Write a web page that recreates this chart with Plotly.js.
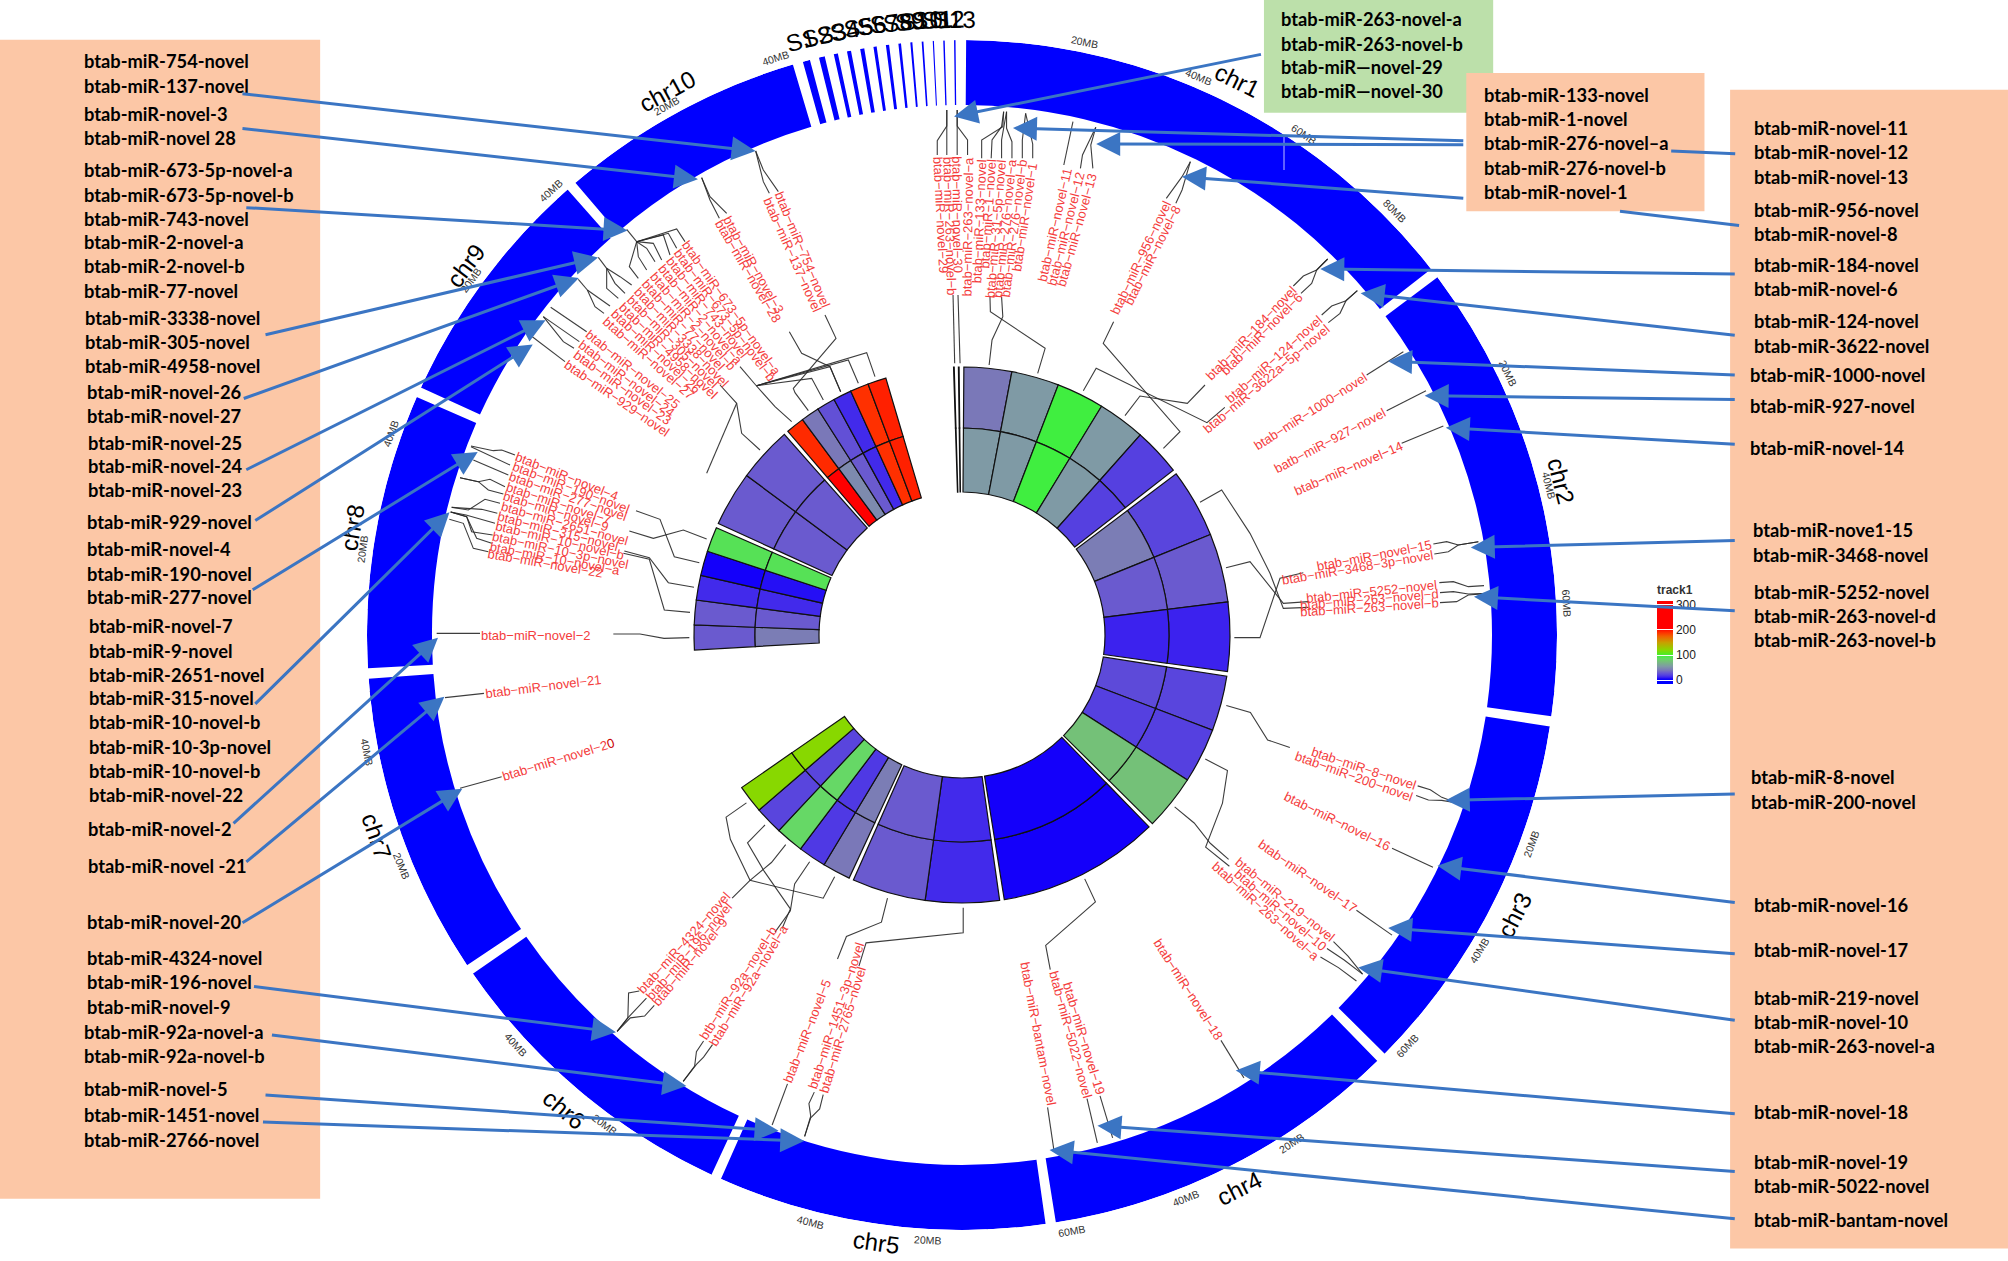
<!DOCTYPE html>
<html><head><meta charset="utf-8">
<script src="https://cdn.plot.ly/plotly-3.0.1.min.js"></script>
<style>html,body{margin:0;padding:0;background:#fff}</style></head>
<body><div id="chart" style="width:2008px;height:1261px"></div>
<script>
// ---------- genome data ----------
const chrNames=['chr1','chr2','chr3','chr4','chr5','chr6','chr7','chr8','chr9','chr10'];
const chrSizesMb=[91.4,79.3,63.5,62.3,56.6,53.8,52.2,47.4,42.3,42.5];
const scaffoldNames=['S1','S2','S3','S4','S5','S6','S7','S8','S9','S10','S11','S12','S13'];
const scaffoldSizesMb=[1.24,1.0,.7,.7,.7,.55,.55,.45,.35,.3,.2,.25,.25];
// heat-map track: number of cells on each sector, then one value per cell for each ring
const cellsPerChr=[5,3,3,1,2,5,0,5,2,6];
const trackOuter=[40,55,97,55,20, 22,30,12, 22,20,75, 5, 14,30, 40,18,85,22,120, 30,30,14,5,90, 30,30, 192,40,26,14,190,195];
const trackInner=[55,55,97,55,20, 42,30,12, 24,20,75, 5, 14,30, 42,18,85,22,120, 42,30,14,8,90, 30,30, 220,48,30,14,190,195];
const thinCellSectors=[11,12]; const thinOuter=[40,40]; const thinInner=[55,55];
const scaleValues=[-15,0,5,12,20,30,40,55,75,85,97,105,120,150,175,190,205,315];
const scaleColors=['#0000ff','#0000ff','#1400fa','#3c22ee','#5540e0','#6a5acf','#7a78b8','#7f9aa5','#74c178','#66d866','#40ee40','#55e820','#88d800','#c8a000','#f06000','#ff3000','#ff0000','#ff0000'];
const barTicks=[0,100,200,300];

// ---------- text lists ----------
const leftBoxText=['btab-miR-754-novel','btab-miR-137-novel','btab-miR-novel-3','btab-miR-novel 28','btab-miR-673-5p-novel-a','btab-miR-673-5p-novel-b','btab-miR-743-novel','btab-miR-2-novel-a','btab-miR-2-novel-b','btab-miR-77-novel','btab-miR-3338-novel','btab-miR-305-novel','btab-miR-4958-novel','btab-miR-novel-26','btab-miR-novel-27','btab-miR-novel-25','btab-miR-novel-24','btab-miR-novel-23','btab-miR-929-novel','btab-miR-novel-4','btab-miR-190-novel','btab-miR-277-novel','btab-miR-novel-7','btab-miR-9-novel','btab-miR-2651-novel','btab-miR-315-novel','btab-miR-10-novel-b','btab-miR-10-3p-novel','btab-miR-10-novel-b','btab-miR-novel-22','btab-miR-novel-2','btab-miR-novel -21','btab-miR-novel-20','btab-miR-4324-novel','btab-miR-196-novel','btab-miR-novel-9','btab-miR-92a-novel-a','btab-miR-92a-novel-b','btab-miR-novel-5','btab-miR-1451-novel','btab-miR-2766-novel'];
const leftBoxX=[64,64,64,64,64,64,64,64,64,64,65,65,65,66,66,67,67,67,66,66,66,66,68,68,68,68,68,68,68,68,67,67,66,66,66,66,64,64,64,64,64];
const leftBoxY=[48,67,89,108,133,152,171,189,208,227,248,267,286,306,325,346,364,383,408,429,448,466,489,508,527,545,564,583,602,621,647,676,720,748,767,786,806,825,850,871,890];
const greenBoxText=['btab-miR-263-novel-a','btab-miR-263-novel-b','btab-miR—novel-29','btab-miR—novel-30'];
const greenBoxY=[15,34,52,71];
const midBoxText=['btab-miR-133-novel','btab-miR-1-novel','btab-miR-276-novel–a','btab-miR-276-novel-b','btab-miR-novel-1'];
const midBoxY=[74,93,112,131,150];
const rightBoxText=['btab-miR-novel-11','btab-miR-novel-12','btab-miR-novel-13','btab-miR-956-novel','btab-miR-novel-8','btab-miR-184-novel','btab-miR-novel-6','btab-miR-124-novel','btab-miR-3622-novel','btab-miR-1000-novel','btab-miR-927-novel','btab-miR-novel-14','btab-miR-nove1-15','btab-miR-3468-novel','btab-miR-5252-novel','btab-miR-263-novel-d','btab-miR-263-novel-b','btab-miR-8-novel','btab-miR-200-novel','btab-miR-novel-16','btab-miR-novel-17','btab-miR-219-novel','btab-miR-novel-10','btab-miR-263-novel-a','btab-miR-novel-18','btab-miR-novel-19','btab-miR-5022-novel','btab-miR-bantam-novel'];
const rightBoxX=[1368,1368,1368,1368,1368,1368,1368,1368,1368,1365,1365,1365,1367,1367,1368,1368,1368,1366,1366,1368,1368,1368,1368,1368,1368,1368,1368,1368];
const rightBoxY=[100,119,138,164,183,207,226,251,270,293,317,350,414,433,462,481,500,607,626,707,742,779,798,817,868,907,926,953];

// Reading frames: [offsetX, offsetY, scaleX, scaleY] from measured coordinates to page pixels
const F={a:[680,0,2.41,3],b:[1100,250,3,3],c:[950,650,2.613,2.613],d:[500,700,2.8,2.8],e:[360,380,3,3],f:[500,0,3,3],r:[0,0,1/1.2806,1/1.2806]};
const P=(fr,p)=>[F[fr][0]+p[0]/F[fr][2],F[fr][1]+p[1]/F[fr][3]];

// Red gene labels: frame, name, outer end of the text
const geneLabels=[
['f','btab-miR-754-novel',835,578],['f','btab-miR-137-novel',800,595],['f','btab-miR-novel-3',680,650],['f','btab-miR-novel-28',655,665],
['f','btab-miR-673-5p-novel-a',555,730],['f','btab-miR-673-5p-novel-b',531,753],['f','btab-miR-743-novel',507,776],['f','btab-miR-2-novel-a',483,799],['f','btab-miR-2-novel-b',459,822],['f','btab-miR-77-novel',435,845],['f','btab-miR-3338-novel',411,868],['f','btab-miR-305-novel',387,891],['f','btab-miR-4958-novel',363,914],['f','btab-miR-novel-26',339,937],['f','btab-miR-novel-27',315,960],
['f','btab-miR-novel-25',262,1000],['f','btab-miR-novel-24',240,1030],['f','btab-miR-novel-23',225,1060],['f','btab-miR-929-novel',198,1090],
['f','btab-miR-novel-29',1312,470],['f','btab-miR-263-novel-b',1345,470],['f','btab-miR-novel-30',1372,470],['f','btab-miR-263-novel-a',1405,470],
['a','btab-miR-133-novel',727,478],['a','btab-miR-1-novel',752,478],['a','btab-miR-31-5p-novel',775,478],['a','btab-miR-276-novel-a',800,478],['a','btab-miR-276-novel-b',825,478],['a','btab-miR-novel-1',850,490],
['a','btab-miR-novel-11',935,505],['a','btab-miR-novel-12',965,515],['a','btab-miR-novel-13',995,520],['a','btab-miR-956-novel',1175,605],['a','btab-miR-novel-8',1198,620],
['b','btab-miR-184-novel',580,115],['b','btab-miR-novel-6',603,135],['b','btab-miR-124-novel',660,205],['b','btab-miR-3622a-5p-novel',685,230],['b','btab-miR-1000-novel',797,378],['b','batb-miR-927-novel',855,485],['b','btab-miR-novel-14',905,585],
['b','btab-miR-novel-15',995,885],['b','btab-miR-3468-3p-novel',1000,915],['b','btab-miR-5252-novel',1010,1005],['b','btab-miR-263-novel-d',1015,1032],['b','btab-miR-263-novel-b',1015,1060],
['c','btab-miR-8-novel',1218,355],['c','btab-miR-200-novel',1208,385],['c','btab-miR-novel-16',1150,515],['c','btab-miR-novel-17',1060,680],['c','btab-miR-219-novel',1000,755],['c','btab-miR-novel-10',980,780],['c','btab-miR-263-novel-a',960,805],['c','btab-miR-novel-18',705,1015],['c','btab-miR-novel-19',395,1160],['c','btab-miR-5022-novel',360,1170],['c','btab-miR-bantam-novel',265,1190],
['d','btab-miR-1451-3p-novel',875,1088],['d','btab-miR-2765-novel',905,1100],['d','btab-miR-novel-5',805,1068],['d','btb-miR-92a-novel-b',568,945],['d','btab-miR-92a-novel-a',595,965],['d','btab-miR-4324-novel',392,815],['d','btab-miR-196-novel',415,835],['d','btab-miR-novel-9',435,850],
['e','btab-miR-novel-20',428,1190],['e','btab-miR-novel-21',377,942],['e','btab-miR-novel-2',365,765],
['e','btab-miR-novel-22',385,520],['e','btab-miR-10-novel-a',390,498],['e','btab-miR-10-3p-novel',398,468],['e','btab-miR-10-novel-b',407,438],['e','btab-miR-315-novel',415,408],['e','btab-miR-2651-novel',423,378],['e','btab-miR-novel-9',432,348],['e','btab-miR-novel-7',440,318],['e','btab-miR-277-novel',450,288],['e','btab-miR-190-novel',458,258],['e','btab-miR-novel-4',468,228]
];

// Thin connector lines
const connectors={
a:[[[643,330],[643,378],[620,422],[620,465]],[[643,330],[643,465]],[[668,330],[668,378],[693,420],[693,465]],[[668,330],[668,465]],
[[780,335],[778,380],[727,420],[727,475]],[[780,335],[775,380],[752,420],[750,475]],[[787,335],[775,420],[775,475]],[[787,335],[787,385],[800,425],[800,475]],[[833,340],[825,420],[825,475]],[[833,340],[850,432],[850,475]],
[[947,365],[925,495]],[[1002,382],[970,465],[965,505]],[[1002,382],[990,435],[995,505]],[[1230,485],[1210,530],[1172,595]],[[1230,485],[1210,570],[1195,610]],
[[658,885],[662,1090]],[[670,885],[675,1090]],[[747,890],[748,935],[880,1045],[862,1120]],[[775,890],[778,950],[752,1020],[745,1095]],
[[1045,965],[1020,1030],[1205,1295],[1165,1345]],[[972,1172],[1003,1105],[1270,1268],[1313,1222]],[[1456,510],[1456,632]]],
b:[[[75,497],[120,438],[262,460],[315,405]],[[300,757],[365,720],[450,850],[510,970],[550,1075],[625,1072]],[[378,953],[450,935],[550,1060],[625,1055]],[[403,1163],[480,1163],[540,985],[610,968]],
[[683,27],[650,60],[610,78],[580,108]],[[683,27],[650,60],[635,100],[603,130]],[[772,122],[738,152],[695,168],[665,195]],[[772,122],[738,152],[720,190],[685,218]],
[[910,305],[800,375]],[[978,422],[860,482]],[[1030,528],[905,580]],[[1135,875],[1075,885],[1040,875],[1000,882]],[[1135,875],[1075,885],[1045,905],[1003,912]],
[[1152,1007],[1105,1010],[1060,995],[1018,998]],[[1165,1030],[1105,1032],[1060,1025],[1020,1028]],[[1165,1030],[1105,1035],[1070,1055],[1020,1058]]],
c:[[[722,145],[785,163],[830,235],[888,255]],[[587,410],[638,452],[680,505],[728,547]],[[667,285],[725,315],[712,400],[668,515],[730,565]],
[[1325,400],[1285,385],[1255,365],[1222,355]],[[1325,400],[1285,393],[1250,392],[1218,380]],[[1262,568],[1155,518]],[[1155,745],[1062,680]],
[[1078,847],[1040,800],[1002,762]],[[1078,847],[1030,810],[985,780]],[[1062,865],[1015,830],[968,802]],[[768,1118],[708,1020]],[[425,1275],[392,1165]],[[385,1288],[358,1172]],[[272,1310],[255,1195]],[[352,598],[380,658],[250,772],[262,835]]],
d:[[[1297,582],[1297,652],[1025,680],[1005,745]],[[1085,555],[1068,622],[970,662],[945,725]],[[937,495],[905,555],[700,505],[645,390],[633,328],[690,288]],
[[742,350],[693,400],[740,480],[813,585],[790,640]],[[800,405],[760,455],[700,505],[650,555]],[[867,453],[825,515],[813,590],[770,650]],
[[328,928],[358,890],[360,820],[390,815]],[[328,928],[358,890],[410,835]],[[328,928],[365,890],[405,885],[432,855]],
[[513,1068],[545,1025],[550,985],[570,955]],[[513,1068],[550,1020],[570,1000],[595,965]],[[762,1190],[805,1075]],[[853,1222],[870,1165],[865,1130],[880,1098]],[[853,1222],[870,1170],[895,1145],[905,1105]]],
e:[[[333,198],[400,212],[425,210],[465,225]],[[333,200],[450,255]],[[340,240],[445,285]],[[300,293],[355,305],[390,298],[435,320]],[[300,293],[355,305],[385,330],[430,342]],
[[275,382],[325,390],[375,358],[420,370]],[[275,382],[365,388],[412,400]],[[272,396],[318,405],[405,430]],[[272,396],[320,410],[335,455],[398,465]],[[272,396],[320,410],[350,475],[395,490]],[[268,418],[310,430],[340,505],[385,515]],
[[230,760],[360,760]],[[255,953],[372,940]],[[300,1225],[425,1190]],
[[760,762],[840,762],[912,775],[988,773]],[[828,392],[900,418],[943,530],[1018,548]],[[808,453],[880,475],[970,450],[1040,477]],[[793,513],[868,533],[925,608],[1002,622]],[[790,520],[868,538],[913,690],[990,697]]],
f:[[[660,1155],[710,1210],[725,1300],[780,1350]],[[710,1210],[620,1420]],[[720,1100],[767,1155]],[[767,1155],[825,1220],[875,1265]],[[770,1157],[1100,1058],[1125,1130]],[[770,1157],[1045,1080],[1075,1150]],[[770,1157],[990,1100],[1022,1175]],[[770,1157],[935,1135],[970,1200]],
[[975,945],[1008,1015],[880,1165],[885,1178],[925,1232]],[[868,995],[905,1060],[990,1100],[1022,1175]],
[[767,453],[790,510],[835,575]],[[767,453],[790,545],[808,580]],[[605,533],[630,590],[680,640]],[[605,533],[630,600],[658,655]],
[[380,688],[410,725]],[[410,725],[530,687],[555,725]],[[410,725],[505,700],[530,745]],[[410,725],[490,705],[510,765]],[[410,725],[460,730],[485,780]],[[410,725],[440,745],[465,785]],[[410,725],[415,770],[440,810]],[[410,725],[388,800],[415,835]],
[[295,772],[320,805]],[[320,805],[320,865],[355,895]],[[320,805],[345,850],[375,880]],[[320,805],[360,830],[395,855]],
[[235,838],[262,870]],[[262,870],[285,920],[312,940]],[[262,870],[295,893],[330,918]],
[[152,922],[260,995]],[[130,950],[165,975],[238,1025]],[[130,950],[190,1025],[222,1045]],[[90,1005],[195,1085]]]
};

// Blue call-out arrows: tail x,y then tip x,y
const arrowTails=[[187,73],[187,100],[190,162],[205,262],[188,312],[190,368],[197,408],[195,462],[197,552],[180,645],[190,675],[187,722],[196,770],[210,808],[205,855],[203,876],
[987,42],[1145,110],[1145,113],[1145,155],[1357,214],[1357,262],[1357,293],[1357,312],[1357,347],[1357,422],[1357,477],[1357,620],[1357,705],[1357,745],[1357,797],[1357,870],[1357,915],[1357,952]];
const arrowTips=[[590,118],[545,140],[490,180],[467,201],[452,217],[426,250],[416,269],[373,353],[351,400],[342,498],[347,544],[361,616],[481,806],[536,848],[608,883],[628,891],
[745,91],[791,100],[856,112.5],[923,138],[1031,210],[1062.5,229],[1084,282],[1112.5,309],[1129,334],[1148.5,427.5],[1151,466],[1129,625],[1122.5,676],[1084,724.6],[1060.6,755.6],[965,836],[857,879],[819.6,898]];
const arrowStubs=[[[1305,118],[1355,120]],[[1265,165],[1358,176]]];

// ---------- geometry of the circular layout ----------
const CX=962,CY=635,RO=595,RI=530,RM=207,RT=268,RH=143;
const degPerMb=0.565;
const chrStart=[];let t=0.4;
chrSizesMb.forEach((s,i)=>{chrStart.push(t);t+=s*degPerMb+1;});
const scStart=[];
scaffoldSizesMb.forEach((s)=>{scStart.push(t);t+=s*degPerMb+0.9;});
const pol=(th,r)=>[CX+r*Math.sin(th*Math.PI/180),CY-r*Math.cos(th*Math.PI/180)];
const tangent=th=>th<90?th:(th<270?th-180:th-360);

const ringTheta=[],ringWidth=[];
chrSizesMb.forEach((s,i)=>{ringWidth.push(s*degPerMb);ringTheta.push(chrStart[i]+s*degPerMb/2);});
scaffoldSizesMb.forEach((s,i)=>{ringWidth.push(s*degPerMb);ringTheta.push(scStart[i]+s*degPerMb/2);});

const cellTheta=[],cellWidth=[];
cellsPerChr.forEach((n,i)=>{const w=chrSizesMb[i]*degPerMb/n;for(let k=0;k<n;k++){cellTheta.push(chrStart[i]+w*(k+.5));cellWidth.push(w);}});
const thinTheta=thinCellSectors.map(i=>scStart[i]+scaffoldSizesMb[i]*degPerMb/2);
const thinWidth=thinCellSectors.map(i=>scaffoldSizesMb[i]*degPerMb);
const cmin=scaleValues[0],cmax=scaleValues[scaleValues.length-1];
const colorscale=scaleValues.map((v,i)=>[(v-cmin)/(cmax-cmin),scaleColors[i]]);

const allTheta=cellTheta.concat(thinTheta),allWidth=cellWidth.concat(thinWidth);
const outerVals=trackOuter.concat(thinOuter),innerVals=trackInner.concat(thinInner);

const traces=[];
// connectors in page-pixel axes
const cx=[],cy=[];
Object.keys(connectors).forEach(fr=>connectors[fr].forEach(line=>{line.forEach(p=>{const q=P(fr,p);cx.push(q[0]);cy.push(q[1]);});cx.push(null);cy.push(null);}));
traces.push({type:'scatter',mode:'lines',x:cx,y:cy,line:{color:'rgba(40,40,40,.9)',width:1.1},hoverinfo:'skip',showlegend:false,xaxis:'x',yaxis:'y'});
const sx=[],sy=[];
arrowStubs.forEach(l=>{l.forEach(p=>{const q=P('r',p);sx.push(q[0]);sy.push(q[1]);});sx.push(null);sy.push(null);});
traces.push({type:'scatter',mode:'lines',x:sx,y:sy,line:{color:'#3b75c3',width:3},hoverinfo:'skip',showlegend:false,xaxis:'x',yaxis:'y'});

// outer ideogram ring
traces.push({type:'barpolar',subplot:'polar',r:ringTheta.map(()=>RO-RI),base:ringTheta.map(()=>RI),theta:ringTheta,width:ringWidth,marker:{color:'#0000ff',line:{width:0}},hoverinfo:'skip',showlegend:false});
// heat-map rings
traces.push({type:'barpolar',subplot:'polar',r:allTheta.map(()=>RT-RM),base:allTheta.map(()=>RM),theta:allTheta,width:allWidth,
 marker:{color:outerVals,colorscale:colorscale,cmin:cmin,cmax:cmax,line:{color:'#111',width:1.2},showscale:true,
 colorbar:{x:1657/2008,xanchor:'left',y:(1261-633)/1261,yanchor:'middle',thicknessmode:'pixels',thickness:16,lenmode:'pixels',len:102,xpad:0,ypad:0,outlinewidth:0,
 tickmode:'array',tickvals:barTicks,ticks:'inside',ticklen:16,tickcolor:'#fff',tickwidth:1,tickfont:{family:'Liberation Sans',size:12,color:'#222'},
 title:{text:'<b>track1</b>',side:'top',font:{family:'Liberation Sans',size:12,color:'#333'}}}},hoverinfo:'skip',showlegend:false});
traces.push({type:'barpolar',subplot:'polar',r:allTheta.map(()=>RM-RH),base:allTheta.map(()=>RH),theta:allTheta,width:allWidth,
 marker:{color:innerVals,colorscale:colorscale,cmin:cmin,cmax:cmax,line:{color:'#111',width:1.2},showscale:false},hoverinfo:'skip',showlegend:false});
// axis ticks on the ring
const tr=[],tth=[];
chrSizesMb.forEach((s,i)=>{for(let m=0;m<=s;m+=5){const th=chrStart[i]+m*degPerMb;tr.push(RO,RO+(m%20===0?6:3.5),null);tth.push(th,th,null);}});
traces.push({type:'scatterpolar',subplot:'polar',mode:'lines',r:tr,theta:tth,line:{color:'#333',width:.8},hoverinfo:'skip',showlegend:false,connectgaps:false});

// ---------- annotations ----------
const ann=[];
// chromosome names
const chrLabelTheta=[26.4,75.6,116.9,153.4,188,220,251,280,306.7,331.5];
const chrLabelR=[619,619,619,619,613,619,619,619,619,619];
chrNames.forEach((n,i)=>{const th=chrLabelTheta[i],q=pol(th,chrLabelR[i]);ann.push({x:q[0],y:q[1],text:n,textangle:tangent(th),showarrow:false,font:{family:'Liberation Sans',size:24,color:'#000'}});});
// scaffold names
scaffoldNames.forEach((n,i)=>{const th=ringTheta[chrNames.length+i],q=pol(th,616);ann.push({x:q[0],y:q[1],text:n,textangle:tangent(th),showarrow:false,font:{family:'Liberation Sans',size:24,color:'#000'}});});
// MB tick labels
chrSizesMb.forEach((s,i)=>{for(let m=20;m<s;m+=20){const th=chrStart[i]+m*degPerMb,q=pol(th,606);ann.push({x:q[0],y:q[1],text:m+'MB',textangle:tangent(th),showarrow:false,font:{family:'Liberation Sans',size:10.5,color:'#333'}});}});
// gene labels, radial
const meas=document.createElement('canvas').getContext('2d');meas.font='13px "Liberation Sans"';
geneLabels.forEach(g=>{let txt=g[1].replace(/-/g,'\u2212');const p=P(g[0],[g[2],g[3]]);const L=meas.measureText(txt).width;
 const dx=CX-p[0],dy=CY-p[1],d=Math.hypot(dx,dy);const c=[p[0]+dx/d*L/2,p[1]+dy/d*L/2];
 let th=Math.atan2(c[0]-CX,CY-c[1])*180/Math.PI;if(th<0)th+=360;
 if(g[1]==='btab-miR-novel-20')txt=txt.slice(0,-1)+'<span style="color:#c80000">0</span>';
 ann.push({x:c[0],y:c[1],text:txt,textangle:th<180?th-90:th-270,showarrow:false,font:{family:'Liberation Sans',size:13,color:'#f43c3c'}});});
// box texts
const boxFont={family:'Lato',size:18.3,color:'#000'};
const boxText=(txt,x,y)=>{const q=P('r',[x,y]);ann.push({x:q[0],y:q[1],text:'<b>'+txt+'</b>',xanchor:'left',showarrow:false,font:boxFont});};
leftBoxText.forEach((s,i)=>boxText(s,leftBoxX[i],leftBoxY[i]));
greenBoxText.forEach((s,i)=>boxText(s,999,greenBoxY[i]));
midBoxText.forEach((s,i)=>boxText(s,1157,midBoxY[i]));
rightBoxText.forEach((s,i)=>boxText(s,rightBoxX[i],rightBoxY[i]));
// blue arrows
arrowTips.forEach((tip,i)=>{const a=P('r',tip),b=P('r',arrowTails[i]);ann.push({x:a[0],y:a[1],ax:b[0],ay:b[1],axref:'x',ayref:'y',text:' ',showarrow:true,arrowhead:2,arrowsize:1.6,arrowwidth:3,arrowcolor:'#3b75c3',standoff:0,startstandoff:0});});
ann.forEach(a=>{a.xref='x';a.yref='y';});

// coloured boxes behind everything
const rectBox=(x0,y0,x1,y1,c)=>{const a=P('r',[x0,y0]),b=P('r',[x1,y1]);return {type:'rect',xref:'x',yref:'y',x0:a[0],y0:a[1],x1:b[0],y1:b[1],fillcolor:c,line:{width:0},layer:'below'};};
const shapes=[rectBox(0,31,250,936,'#fcc7a6'),rectBox(987,0,1166,88,'#bce0aa'),rectBox(1145,57,1331,165,'#fcc7a6'),rectBox(1351,70,1568,975,'#fcc7a6'),
 {type:'line',xref:'x',yref:'y',x0:1284,x1:1284,y0:127,y1:170,line:{color:'rgba(255,255,255,.75)',width:1},layer:'above'}];

Plotly.newPlot('chart',traces,{
 width:2008,height:1261,margin:{l:0,r:0,t:0,b:0},paper_bgcolor:'#fff',plot_bgcolor:'rgba(0,0,0,0)',showlegend:false,
 xaxis:{range:[0,2008],visible:false,domain:[0,1]},yaxis:{range:[1261,0],visible:false,domain:[0,1]},
 polar:{domain:{x:[(CX-RO)/2008,(CX+RO)/2008],y:[(1261-CY-RO)/1261,(1261-CY+RO)/1261]},bgcolor:'rgba(0,0,0,0)',barmode:'overlay',bargap:0,
  radialaxis:{visible:false,range:[0,RO]},angularaxis:{visible:false,rotation:90,direction:'clockwise'}},
 annotations:ann,shapes:shapes,font:{family:'Liberation Sans'}
},{staticPlot:true,displayModeBar:false});
</script></body></html>
